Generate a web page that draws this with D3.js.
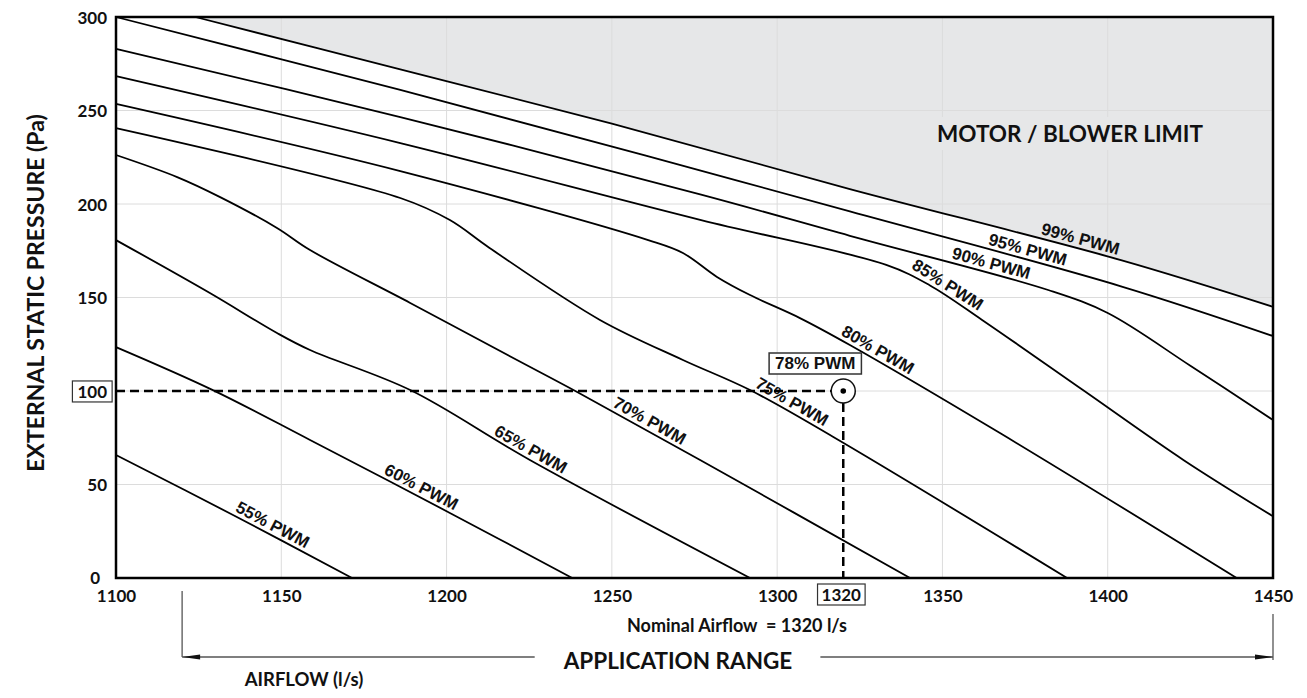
<!DOCTYPE html>
<html>
<head>
<meta charset="utf-8">
<script src="https://cdn.jsdelivr.net/npm/d3@7"></script>
<style>
  body { margin: 0; background: #fff; }
  svg { display: block; }
  .tick text { font-family: Lato, sans-serif; font-weight: 700; font-size: 17px; fill: #111; }
  .bold { font-family: Lato, sans-serif; font-weight: 700; fill: #111; }
  .pwm { font-family: "Liberation Sans", Arial, sans-serif; font-weight: 700; font-size: 17px; fill: #111; }
</style>
</head>
<body>
<svg id="chart" width="1307" height="698"></svg>
<script>
// fan curves, [airflow (l/s), external static pressure (Pa)]
const pwm99 = [[1124,300],[1186,272],[1250,243],[1322,208],[1404,170],[1450,145]];
const pwm95 = [[1100,300],[1186,261],[1260,226],[1322,196],[1404,156],[1450,129.4]];
const pwm90 = [[1100,283],[1186,246.5],[1277,205],[1322,183],[1382,154],[1400,141.7],[1425,113.5],[1450,84.5]];
const pwm85 = [[1100,268.4],[1186,232.6],[1277,191.4],[1333,167.4],[1346,156.7],[1362,138],[1392.5,100.5],[1423,63],[1450,33]];
const pwm80 = [[1100,253.5],[1186,217.6],[1261,180.7],[1271.5,173.8],[1281.8,161],[1291.8,151.3],[1306.9,139],[1322,124.6],[1367.4,77.5],[1439,0]];
const pwm75 = [[1100,240.6],[1186,203.2],[1201,191.4],[1213,176.5],[1246.4,138],[1271.5,116.6],[1291.8,100.5],[1317,75.4],[1387.7,0]];
const pwm70 = [[1100,226.2],[1118.5,214.4],[1131.5,203.7],[1148.7,187.2],[1158.7,175.4],[1189,147.1],[1221.3,116.6],[1239.5,99.5],[1276.7,63.1],[1340.2,0]];
const pwm65 = [[1100,180.7],[1128.4,152.4],[1148.7,131],[1158.7,121.9],[1189,100.5],[1225.2,63.1],[1291.8,0]];
const pwm60 = [[1100,123.5],[1129.3,100.5],[1158.7,73.8],[1201,34.8],[1238,0]];
const pwm55 = [[1100,65.8],[1135.4,33.7],[1171.4,0]];

const curves = [pwm99, pwm95, pwm90, pwm85, pwm80, pwm75, pwm70, pwm65, pwm60, pwm55];
const curveNames = ["99% PWM","95% PWM","90% PWM","85% PWM","80% PWM","75% PWM","70% PWM","65% PWM","60% PWM","55% PWM"];
const labelAirflow = [1391, 1375, 1364, 1350, 1329, 1303, 1260, 1224, 1191, 1146];

const xTicks = [1100,1150,1200,1250,1300,1350,1400,1450];
const yTicks = [0,50,100,150,200,250,300];

const dutyAirflow = 1320, dutyPressure = 100, dutyLabel = "78% PWM";
const rangeStart = 1120, rangeEnd = 1450;

const svg = d3.select("#chart");

var x = d3.scaleLinear().domain([1100, 1450]).range([116, 1273]);
var y = d3.scaleLinear().domain([0, 300]).range([578, 17]);

// motor / blower limit region
var area = d3.area()
    .x(d => x(d[0]))
    .y0(y(300))
    .y1(d => y(d[1]))
    .curve(d3.curveCatmullRom.alpha(0.5));
svg.append("path").datum(pwm99).attr("d", area).attr("fill", "#e6e7e8");

// grid
svg.append("g").selectAll("line").data(xTicks.slice(1, -1)).join("line")
    .attr("x1", d => x(d)).attr("x2", d => x(d))
    .attr("y1", y(0)).attr("y2", y(300))
    .attr("stroke", "#dcdcdc").attr("stroke-width", 1);
svg.append("g").selectAll("line").data(yTicks.slice(1, -1)).join("line")
    .attr("y1", d => y(d)).attr("y2", d => y(d))
    .attr("x1", x(1100)).attr("x2", x(1450))
    .attr("stroke", "#dcdcdc").attr("stroke-width", 1);

// limit text with a patch behind it
var limitText = svg.append("text").attr("class", "bold")
    .attr("x", 1070).attr("y", 142)
    .attr("text-anchor", "middle").attr("font-size", 22.5)
    .text("MOTOR / BLOWER LIMIT");
var lb = limitText.node().getBBox();
svg.insert("rect", () => limitText.node()).attr("x", lb.x - 10).attr("y", lb.y - 3)
    .attr("width", lb.width + 20).attr("height", lb.height + 6).attr("fill", "#e6e7e8");

// curves
var line = d3.line().x(d => x(d[0])).y(d => y(d[1])).curve(d3.curveCatmullRom.alpha(0.5));
var paths = svg.append("g").selectAll("path").data(curves).join("path")
    .attr("d", line)
    .attr("fill", "none")
    .attr("stroke", "#000")
    .attr("stroke-width", 1.8);

// curve labels, sitting on the line at the local angle
function lengthAtX(node, px) {
    var lo = 0, hi = node.getTotalLength();
    for (var i = 0; i < 40; i++) {
        var mid = (lo + hi) / 2;
        if (node.getPointAtLength(mid).x < px) lo = mid; else hi = mid;
    }
    return lo;
}
paths.each(function(d, i) {
    var node = this;
    var l = lengthAtX(node, x(labelAirflow[i]));
    var p = node.getPointAtLength(l);
    var a = node.getPointAtLength(Math.max(0, l - 10));
    var b = node.getPointAtLength(l + 10);
    var ang = Math.atan2(b.y - a.y, b.x - a.x) * 180 / Math.PI;
    svg.append("text").attr("class", "pwm")
        .attr("transform", "translate(" + p.x + "," + p.y + ") rotate(" + ang + ")")
        .attr("y", -4)
        .attr("text-anchor", "middle")
        .text(curveNames[i]);
});

// duty point
var dx = x(dutyAirflow), dy = y(dutyPressure), r = 12;
svg.append("line")
    .attr("x1", x(1100)).attr("x2", dx - r).attr("y1", dy).attr("y2", dy)
    .attr("stroke", "#000").attr("stroke-width", 2.5).attr("stroke-dasharray", "9,5");
svg.append("line")
    .attr("x1", dx).attr("x2", dx).attr("y1", dy + r).attr("y2", y(0))
    .attr("stroke", "#000").attr("stroke-width", 2.5).attr("stroke-dasharray", "9,5");
svg.append("circle").attr("cx", dx).attr("cy", dy).attr("r", r)
    .attr("fill", "#fff").attr("stroke", "#111").attr("stroke-width", 1.5);
svg.append("circle").attr("cx", dx).attr("cy", dy).attr("r", 2.8).attr("fill", "#000");

var dutyText = svg.append("text").attr("class", "pwm")
    .attr("x", dx - 28).attr("y", dy - 22)
    .attr("text-anchor", "middle").attr("font-size", 17)
    .text(dutyLabel);
var db = dutyText.node().getBBox();
svg.insert("rect", () => dutyText.node()).attr("x", db.x - 6).attr("y", db.y - 1)
    .attr("width", db.width + 12).attr("height", db.height + 2)
    .attr("fill", "#fff").attr("stroke", "#333").attr("stroke-width", 1.5);

// frame
svg.append("rect").attr("x", x(1100)).attr("y", y(300))
    .attr("width", x(1450) - x(1100)).attr("height", y(0) - y(300))
    .attr("fill", "none").attr("stroke", "#000").attr("stroke-width", 2.5);

// axes
var gx = svg.append("g").attr("transform", "translate(0," + y(0) + ")")
    .call(d3.axisBottom(x).tickValues(xTicks).tickSize(0).tickPadding(12).tickFormat(d3.format("d")));
gx.select(".domain").remove();

var gy = svg.append("g").attr("transform", "translate(" + x(1100) + ",0)")
    .call(d3.axisLeft(y).tickValues(yTicks).tickSize(0).tickPadding(9));
gy.select(".domain").remove();
gy.selectAll(".tick text").attr("dy", "0.38em");
gy.selectAll(".tick").filter(d => d === 0).select("text").attr("x", -16).attr("dy", "0.3em");

// boxes on 100 and 1320
gy.selectAll(".tick").filter(d => d === dutyPressure).each(function() {
    var t = d3.select(this).select("text");
    var bb = t.node().getBBox();
    d3.select(this).insert("rect", () => t.node())
        .attr("x", bb.x - 5).attr("y", bb.y)
        .attr("width", bb.width + 10).attr("height", bb.height)
        .attr("fill", "#fff").attr("stroke", "#333").attr("stroke-width", 1.2);
});
var xt = svg.append("text").attr("class", "bold")
    .attr("x", dx - 2).attr("y", 601).attr("text-anchor", "middle").attr("font-size", 17)
    .text(dutyAirflow);
var xb = xt.node().getBBox();
svg.insert("rect", () => xt.node()).attr("x", xb.x - 4).attr("y", xb.y)
    .attr("width", xb.width + 8).attr("height", xb.height)
    .attr("fill", "#fff").attr("stroke", "#333").attr("stroke-width", 1.2);

// titles
svg.append("text").attr("class", "bold")
    .attr("transform", "translate(44,293) rotate(-90)")
    .attr("text-anchor", "middle").attr("font-size", 23)
    .text("EXTERNAL STATIC PRESSURE (Pa)");

svg.append("text").attr("class", "bold")
    .attr("x", 737).attr("y", 632).attr("text-anchor", "middle").attr("font-size", 18)
    .style("white-space", "pre")
    .text("Nominal Airflow  = 1320 l/s");

var appText = svg.append("text").attr("class", "bold")
    .attr("x", 678).attr("y", 669).attr("text-anchor", "middle").attr("font-size", 22.5)
    .text("APPLICATION RANGE");

svg.append("text").attr("class", "bold")
    .attr("x", 304).attr("y", 686).attr("text-anchor", "middle").attr("font-size", 18.5)
    .text("AIRFLOW (l/s)");

// application range dimension line
var ab = appText.node().getBBox();
var ry = 657, rs = x(rangeStart), re = x(rangeEnd);
var dim = svg.append("g").attr("stroke", "#555").attr("stroke-width", 1.3);
dim.append("line").attr("x1", rs).attr("x2", rs).attr("y1", 591).attr("y2", ry);
dim.append("line").attr("x1", re).attr("x2", re).attr("y1", 614).attr("y2", ry + 3);
dim.append("line").attr("x1", rs).attr("x2", ab.x - 28).attr("y1", ry).attr("y2", ry);
dim.append("line").attr("x1", ab.x + ab.width + 28).attr("x2", re).attr("y1", ry).attr("y2", ry);
svg.append("path").attr("d", "M" + rs + "," + ry + "L" + (rs + 18) + "," + (ry - 2.5) + "L" + (rs + 18) + "," + (ry + 2.5) + "Z").attr("fill", "#111");
svg.append("path").attr("d", "M" + re + "," + ry + "L" + (re - 18) + "," + (ry - 2.5) + "L" + (re - 18) + "," + (ry + 2.5) + "Z").attr("fill", "#111");
</script>
</body>
</html>
